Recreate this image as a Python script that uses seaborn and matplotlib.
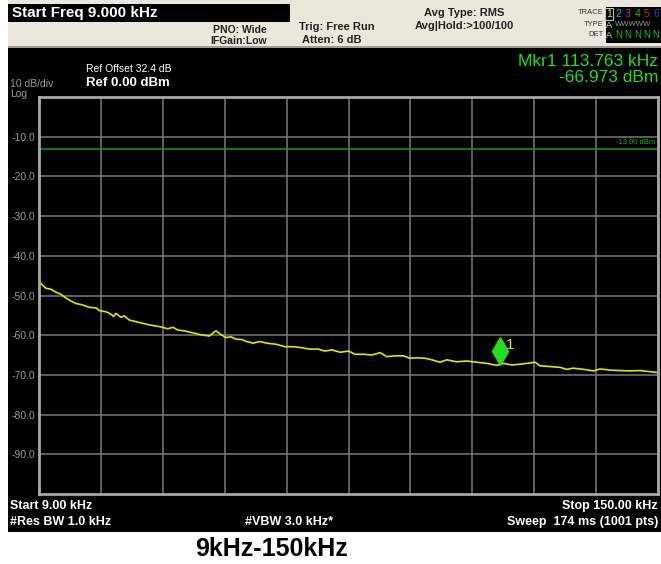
import numpy as np
import pandas as pd
import matplotlib
matplotlib.use("Agg")
import matplotlib.pyplot as plt
import matplotlib.transforms as mtransforms
from matplotlib.patches import Rectangle
import seaborn as sns

# trace (kHz, dBm)
freq_khz = [9.0, 10.6, 11.7, 12.9, 14.0, 15.2, 16.3, 17.4, 19.0, 20.5, 22.0, 22.7,
            24.3, 25.4, 26.0, 26.5, 27.7, 28.4, 29.6, 31.1, 32.6, 34.1, 35.7, 37.2,
            38.3, 39.5, 40.6, 42.1, 43.6, 44.8, 45.9, 47.8, 49.3, 50.5, 51.6, 52.7,
            53.9, 55.2, 56.3, 57.8, 59.3, 60.9, 63.1, 65.0, 66.9, 68.5, 70.7, 72.6,
            74.1, 75.7, 77.6, 79.5, 81.0, 82.9, 84.8, 86.7, 88.2, 90.1, 92.0, 93.5,
            95.0, 96.9, 98.5, 100.3, 101.9, 104.1, 106.4, 108.7, 111.0, 113.3, 114.8,
            116.7, 118.6, 120.1, 122.0, 123.1, 125.4, 127.7, 129.2, 130.7, 133.0,
            135.3, 136.8, 139.1, 141.3, 143.6, 145.9, 148.2, 150.0]
level_dbm = [-46.5, -48.2, -48.4, -49.2, -49.7, -50.7, -51.4, -52.0, -52.4, -53.0, -53.1, -53.8,
             -54.1, -54.7, -55.3, -54.5, -55.5, -55.1, -56.2, -56.6, -57.0, -57.4, -57.7, -58.0,
             -58.4, -58.0, -58.7, -58.9, -59.3, -59.6, -59.9, -60.2, -58.9, -59.9, -60.6, -60.4,
             -61.0, -61.1, -61.6, -62.0, -61.6, -62.0, -62.3, -62.9, -62.9, -63.1, -63.5, -63.5,
             -64.0, -63.7, -64.3, -64.0, -64.8, -64.8, -65.0, -64.4, -65.4, -65.2, -65.2, -65.8,
             -65.7, -65.8, -66.2, -66.8, -66.2, -66.7, -66.5, -66.8, -67.1, -67.6, -67.1,
             -67.5, -67.3, -67.1, -66.8, -67.7, -67.9, -68.1, -68.6, -68.3, -68.6,
             -69.0, -68.5, -68.8, -68.9, -69.0, -68.9, -69.2, -69.4]

start_khz, stop_khz = 9.0, 150.0
ref_dbm, db_per_div = 0.0, 10
limit_dbm = -13.0
mkr_khz, mkr_dbm = 113.763, -66.973
ytick_vals = [-10, -20, -30, -40, -50, -60, -70, -80, -90]

W, H = 661, 564
sns.set_style("dark")
plt.rcParams["font.family"] = ["Liberation Sans", "DejaVu Sans"]

fig = plt.figure(figsize=(W / 100, H / 100), dpi=100, facecolor="white")


def fx(x):
    return x / W


def fy(y):
    return 1 - y / H


def ftext(x, y, s, **kw):
    kw.setdefault("va", "center")
    fig.text(fx(x), fy(y), s, **kw)


def frect(x0, y0, x1, y1, **kw):
    kw.setdefault("zorder", -5)
    fig.patches.append(Rectangle((fx(x0), fy(y1)), (x1 - x0) / W, (y1 - y0) / H,
                                 transform=fig.transFigure, figure=fig, **kw))


# screen panels
frect(8, 0, 661, 47, facecolor="#ebe7da", edgecolor="none")
frect(8, 46, 661, 48, facecolor="#9a9a96", edgecolor="none")
frect(8, 48, 661, 532, facecolor="black", edgecolor="none")
frect(8, 4, 290, 22, facecolor="black", edgecolor="none")
frect(606, 7, 661, 43, facecolor="black", edgecolor="none")

ax = fig.add_axes([fx(39), fy(494), (658 - 39) / W, (494 - 97) / H])
ax.set_facecolor("black")

df = pd.DataFrame({"freq": freq_khz, "level": level_dbm})
sns.lineplot(data=df, x="freq", y="level", ax=ax, color="#e4e400", lw=1.2)
ax.axhline(limit_dbm, color="#1c8c1c", lw=1.2)

ax.set_xlim(start_khz, stop_khz)
ax.set_ylim(ref_dbm - 10 * db_per_div, ref_dbm)
ax.set_xticks(np.linspace(start_khz, stop_khz, 11))
ax.set_yticks(ytick_vals)
ax.set_xticklabels([])
ax.set_yticklabels([f"{v:.1f}" for v in ytick_vals], color="#9a9a9a", fontsize=7.5)
ax.tick_params(length=0, pad=3)
ax.grid(True, color="#7a7a7a", lw=1.1)
ax.set_xlabel("")
ax.set_ylabel("")
for s in ax.spines.values():
    s.set_visible(True)
    s.set_color("#a8a8a8")
    s.set_linewidth(2)

ax.text(0.995, limit_dbm + 0.6, "-13.00 dBm", transform=ax.get_yaxis_transform(),
        ha="right", va="bottom", color="#20b020", fontsize=5.5)

# marker 1
mk_tr = mtransforms.offset_copy(ax.transData, fig=fig, x=1, y=12, units="dots")
ax.plot([mkr_khz], [mkr_dbm], marker="d", ms=14, color="#22dd22", ls="none",
        transform=mk_tr, zorder=5)
lab_tr = mtransforms.offset_copy(ax.transData, fig=fig, x=7, y=18, units="dots")
ax.text(mkr_khz, mkr_dbm, "1", transform=lab_tr, color="#e8e800", fontsize=11,
        ha="left", va="center")

# header
ftext(12, 13, "Start Freq 9.000 kHz", color="white", fontsize=11, weight="bold")
ftext(267, 30, "PNO: Wide", ha="right", color="#222222", fontsize=7.5, weight="bold")
ftext(267, 41, "IFGain:Low", ha="right", color="#222222", fontsize=7.5, weight="bold")
ftext(299, 27, "Trig: Free Run", color="#222222", fontsize=8, weight="bold")
ftext(302, 40, "Atten: 6 dB", color="#222222", fontsize=8, weight="bold")
ftext(464, 13, "Avg Type: RMS", ha="center", color="#222222", fontsize=8, weight="bold")
ftext(464, 26, "Avg|Hold:>100/100", ha="center", color="#222222", fontsize=8, weight="bold")
ftext(604, 13, "TRACE", ha="right", color="#333333", fontsize=5.5)
ftext(604, 24, "TYPE", ha="right", color="#333333", fontsize=5.5)
ftext(604, 35, "DET", ha="right", color="#333333", fontsize=5.5)
trace_cols = ["#e8e800", "#00c8d8", "#c020c0", "#20c020", "#e02020", "#3040ff"]
for i, c in enumerate(trace_cols):
    ftext(609 + i * 9.4, 14, str(i + 1), ha="center", color=c, fontsize=7.5)
frect(605, 8, 613, 20, facecolor="none", edgecolor="#b0c8b0", lw=0.8, zorder=1)
ftext(609, 25, "A", ha="center", color="#dddddd", fontsize=6.5)
ftext(615, 25, "WWWWW", ha="left", color="#999999", fontsize=5.5)
ftext(609, 35, "A", ha="center", color="#dddddd", fontsize=6.5)
for i in range(5):
    ftext(618.4 + i * 9.4, 35, "N", ha="center", color="#20c020", fontsize=7)

# screen annotations
ftext(86, 69, "Ref Offset 32.4 dB", color="white", fontsize=7.5)
ftext(86, 83, "Ref 0.00 dBm", color="white", fontsize=9.5, weight="bold")
ftext(10, 84, "10 dB/div", color="#9a9a9a", fontsize=7.5)
ftext(10, 94, "Log", color="#9a9a9a", fontsize=7.5)
ftext(658, 62, "Mkr1 113.763 kHz", ha="right", color="#22dd22", fontsize=12.5)
ftext(658, 78, "-66.973 dBm", ha="right", color="#22dd22", fontsize=12.5)

ftext(10, 506, "Start 9.00 kHz", color="white", fontsize=9, weight="bold")
ftext(10, 522, "#Res BW 1.0 kHz", color="white", fontsize=9, weight="bold")
ftext(245, 522, "#VBW 3.0 kHz*", color="white", fontsize=9, weight="bold")
ftext(658, 506, "Stop 150.00 kHz", ha="right", color="white", fontsize=9, weight="bold")
ftext(658, 522, "Sweep  174 ms (1001 pts)", ha="right", color="white", fontsize=9,
      weight="bold")

ftext(272, 549, "9kHz-150kHz", ha="center", color="black", fontsize=18, weight="bold")

fig.savefig("out.png", dpi=100, facecolor="white")
plt.close(fig)
